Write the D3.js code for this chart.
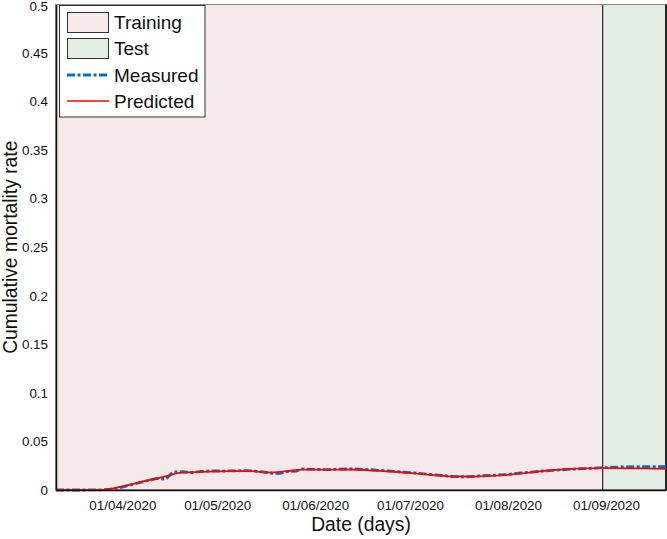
<!DOCTYPE html>
<html><head><meta charset="utf-8">
<script src="https://cdn.jsdelivr.net/npm/d3@7/dist/d3.min.js"></script>
<style>
html,body{margin:0;padding:0;background:#fff;}
svg{display:block;font-family:"Liberation Sans",Arial,Helvetica,sans-serif;}
</style></head>
<body><svg id="c" width="667" height="539"></svg>
<script>
// ---- data ----
const xDomain = ["2020-03-11", "2020-09-20"];
const testStart = "2020-08-31";
const xTickDates = ["2020-04-01","2020-05-01","2020-06-01","2020-07-01","2020-08-01","2020-09-01"];
const yTicks = [0,0.05,0.1,0.15,0.2,0.25,0.3,0.35,0.4,0.45,0.5];

const measuredDates = ["2020-03-11","2020-03-15","2020-03-20","2020-03-25","2020-03-28","2020-04-01","2020-04-04","2020-04-07","2020-04-10","2020-04-12","2020-04-14","2020-04-15","2020-04-17","2020-04-20","2020-04-23","2020-04-26","2020-04-29","2020-05-03","2020-05-07","2020-05-10","2020-05-13","2020-05-16","2020-05-19","2020-05-21","2020-05-23","2020-05-26","2020-05-28","2020-06-01","2020-06-05","2020-06-09","2020-06-13","2020-06-17","2020-06-21","2020-06-25","2020-06-29","2020-07-03","2020-07-07","2020-07-11","2020-07-15","2020-07-19","2020-07-23","2020-07-27","2020-08-01","2020-08-05","2020-08-10","2020-08-15","2020-08-20","2020-08-25","2020-08-30","2020-09-03","2020-09-07","2020-09-11","2020-09-15","2020-09-20"];
const measuredValues = [0,0,0,0.0002,0.0008,0.003,0.0055,0.008,0.0105,0.012,0.0112,0.0118,0.0185,0.0188,0.0180,0.0192,0.0198,0.0195,0.0198,0.0200,0.0195,0.0185,0.0168,0.0172,0.0190,0.0195,0.0218,0.0212,0.0210,0.0215,0.0218,0.0212,0.0203,0.0195,0.0185,0.0175,0.0160,0.0150,0.0138,0.0135,0.0145,0.0152,0.0160,0.0175,0.0190,0.0202,0.0212,0.0220,0.0228,0.0235,0.0238,0.0240,0.0240,0.0242];

const predictedDates = ["2020-03-11","2020-03-26","2020-03-30","2020-04-09","2020-04-15","2020-04-19","2020-04-23","2020-04-28","2020-05-05","2020-05-12","2020-05-17","2020-05-23","2020-05-28","2020-06-05","2020-06-12","2020-06-20","2020-06-28","2020-07-07","2020-07-16","2020-07-21","2020-08-01","2020-08-14","2020-08-30","2020-09-12","2020-09-20"];
const predictedValues = [0,0,0.0023,0.0098,0.0142,0.0177,0.0183,0.0190,0.0194,0.0194,0.0180,0.0194,0.0210,0.0210,0.0211,0.0200,0.0183,0.0157,0.0139,0.0139,0.0157,0.0201,0.0225,0.0222,0.0219];

const legendLabels = ["Training","Test","Measured","Predicted"];
const yLabel = "Cumulative mortality rate";
const xLabel = "Date (days)";

// ---- drawing ----
const parse = d3.utcParse("%Y-%m-%d");
const svg = d3.select("#c");
const L = 56, R = 666, T = 4.5, B = 490;
const x = d3.scaleUtc().domain(xDomain.map(parse)).range([L, R]);
const y = d3.scaleLinear().domain([0, 0.5]).range([B, T]);

const trainCol = "#f5e9e9", testCol = "#e3eee4";
const blue = "#0072BD", red = "#ff0000";

// background regions
svg.append("rect").attr("x", L).attr("y", T).attr("width", x(parse(testStart)) - L).attr("height", B - T)
  .attr("fill", trainCol).attr("stroke", "#222").attr("stroke-width", 1);
svg.append("rect").attr("x", x(parse(testStart))).attr("y", T).attr("width", R - x(parse(testStart))).attr("height", B - T)
  .attr("fill", testCol).attr("stroke", "#222").attr("stroke-width", 1);
svg.append("line").attr("x1", L).attr("x2", R).attr("y1", T).attr("y2", T).attr("stroke", "#888").attr("stroke-width", 1);
svg.append("line").attr("x1", R).attr("x2", R).attr("y1", T).attr("y2", B).attr("stroke", "#222").attr("stroke-width", 2);

// lines
const measured = measuredDates.map((d, i) => ({d: parse(d), v: measuredValues[i]}));
const predicted = predictedDates.map((d, i) => ({d: parse(d), v: predictedValues[i]}));
svg.append("path").datum(measured)
  .attr("d", d3.line().x(p => x(p.d)).y(p => y(p.v)).curve(d3.curveLinear))
  .attr("fill", "none").attr("stroke", blue).attr("stroke-width", 2.8).attr("stroke-dasharray", "8,2.5,3,2.5");
svg.append("path").datum(predicted)
  .attr("d", d3.line().x(p => x(p.d)).y(p => y(p.v)).curve(d3.curveMonotoneX))
  .attr("fill", "none").attr("stroke", red).attr("stroke-width", 1.8);

// axes
const xAxis = d3.axisBottom(x).tickValues(xTickDates.map(parse)).tickFormat(d3.utcFormat("%d/%m/%Y")).tickSize(0).tickPadding(10);
const gx = svg.append("g").attr("transform", `translate(0,${B})`).call(xAxis);
gx.select(".domain").attr("stroke", "#111").attr("stroke-width", 1.5);
gx.selectAll("text").attr("font-size", 13.4).attr("fill", "#111").attr("font-family", "Liberation Sans, Arial, sans-serif");

const yAxis = d3.axisLeft(y).tickValues(yTicks).tickFormat(d => String(+d.toFixed(2))).tickSize(0).tickPadding(8);
const gy = svg.append("g").attr("transform", `translate(${L},0)`).call(yAxis);
gy.select(".domain").attr("stroke", "#111").attr("stroke-width", 1.5);
gy.selectAll("text").attr("font-size", 13.4).attr("fill", "#111").attr("font-family", "Liberation Sans, Arial, sans-serif")
  .attr("dy", d => d === 0.5 ? "0.42em" : "0.32em");

// axis labels
svg.append("text").attr("x", (L + R) / 2).attr("y", 531).attr("text-anchor", "middle")
  .attr("font-size", 19.3).attr("fill", "#111").text(xLabel);
svg.append("text").attr("transform", `translate(16.5,${(T + B) / 2}) rotate(-90)`).attr("text-anchor", "middle")
  .attr("font-size", 19.3).attr("fill", "#111").text(yLabel);

// legend
const lg = svg.append("g");
lg.append("rect").attr("x", 59.5).attr("y", 5.5).attr("width", 145.5).attr("height", 111.5)
  .attr("fill", "#fff").attr("stroke", "#333").attr("stroke-width", 1);
const rowY = [22, 48, 75, 101];
lg.append("rect").attr("x", 67.5).attr("y", 12.5).attr("width", 41).attr("height", 20).attr("fill", trainCol).attr("stroke", "#333");
lg.append("rect").attr("x", 67.5).attr("y", 38.5).attr("width", 41).attr("height", 20).attr("fill", testCol).attr("stroke", "#333");
lg.append("line").attr("x1", 67).attr("x2", 109).attr("y1", rowY[2]).attr("y2", rowY[2])
  .attr("stroke", blue).attr("stroke-width", 2.8).attr("stroke-dasharray", "8,2.5,3,2.5");
lg.append("line").attr("x1", 67).attr("x2", 109).attr("y1", rowY[3]).attr("y2", rowY[3])
  .attr("stroke", red).attr("stroke-width", 1.6);
legendLabels.forEach((t, i) => {
  lg.append("text").attr("x", 114).attr("y", rowY[i]).attr("dy", "0.35em")
    .attr("font-size", 19).attr("fill", "#111").text(t);
});
</script></body></html>
